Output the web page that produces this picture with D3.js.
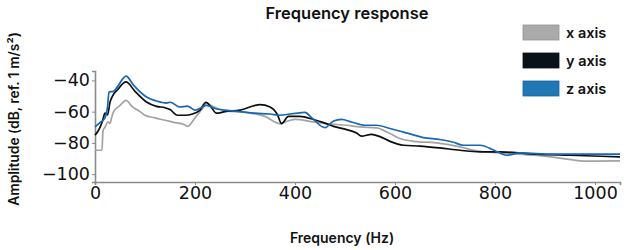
<!DOCTYPE html>
<html>
<head>
<meta charset="utf-8">
<script src="https://cdn.jsdelivr.net/npm/d3@7"></script>
<style>
  body { margin: 0; background: #fff; }
  svg { display: block; }
</style>
</head>
<body>
<svg id="chart" width="624" height="250"></svg>
<script>
// values
const freqX = [0, 14, 16, 20, 26, 30, 33, 37, 50, 62, 75, 90, 100, 120, 140, 160, 180, 185, 200, 215, 223, 235, 260, 300, 340, 370, 380, 400, 437, 463, 503, 530, 563, 590, 610, 637, 683, 730, 757, 810, 883, 937, 983, 1050];
const ampX = [-84.7, -84.7, -72, -70, -66.6, -67.5, -64, -60.2, -56, -52.8, -57, -60, -62.3, -64, -65.5, -67, -68.5, -69.4, -64, -58, -54.5, -56.5, -59.5, -60.5, -63, -67.7, -66.6, -65, -66.6, -67.7, -68.7, -69.8, -70.4, -74, -77.2, -79, -80, -82.5, -84.7, -86.4, -88, -90, -91.7, -91.5];

const freqY = [0, 5, 10, 15, 20, 25, 30, 35, 45, 62, 80, 103, 123, 140, 150, 165, 180, 195, 210, 222, 232, 243, 260, 290, 330, 350, 365, 373, 387, 410, 437, 457, 477, 503, 523, 533, 553, 570, 590, 617, 650, 690, 730, 770, 810, 883, 950, 1050];
const ampY = [-75, -73, -70, -66, -61, -62, -54, -50, -46, -41, -47, -53.8, -56.6, -57.5, -58.7, -62.3, -62.3, -61.5, -59, -54, -57, -61, -60, -59, -55.5, -57, -62, -67.7, -63, -63, -65, -67, -69.4, -71.5, -73.6, -75.7, -74.5, -76, -79, -81.5, -82, -83.2, -84.7, -85.7, -85.7, -87.2, -87.9, -88.9];

const freqZ = [0, 10, 20, 25, 28, 37, 45, 62, 77, 103, 123, 143, 150, 170, 185, 200, 212, 223, 240, 260, 290, 320, 350, 370, 390, 410, 420, 433, 460, 477, 493, 513, 540, 563, 590, 623, 657, 690, 717, 737, 770, 800, 823, 850, 917, 983, 1050];
const ampZ = [-69.8, -67, -64, -57, -47.5, -47, -44, -37.3, -43, -50.6, -53.2, -54.5, -54, -57, -56.5, -59, -57.5, -56, -58, -59, -60, -61, -61.5, -62.3, -61.5, -60.8, -60.5, -63.8, -70.2, -66, -65, -66.6, -68.7, -68.7, -70.8, -73.6, -76.6, -77.8, -79.6, -81.5, -81.5, -85, -87.9, -86.4, -87.2, -87.2, -87.2];

const xTicks = [0, 200, 400, 600, 800, 1000];
const yTicks = [-40, -60, -80, -100];

const seriesNames = ["x axis", "y axis", "z axis"];
const lineColors = ["#a3a3a3", "#0b0d10", "#1667b4"];
const patchColors = ["#aaaaaa", "#0a1219", "#1f77b4"];

const series = [
    { name: seriesNames[0], values: freqX.map((f, i) => [f, ampX[i]]) },
    { name: seriesNames[1], values: freqY.map((f, i) => [f, ampY[i]]) },
    { name: seriesNames[2], values: freqZ.map((f, i) => [f, ampZ[i]]) }
];

const svg = d3.select("#chart");

const x = d3.scaleLinear().domain([0, 1050]).range([95, 620]);
const y = d3.scaleLinear().domain([-105, -34]).range([182, 71]);

const axisColor = "#8a8a8a";

const xAxis = svg.append("g")
    .attr("transform", `translate(0,${y(-105)})`)
    .call(d3.axisBottom(x).tickValues(xTicks).tickSize(3).tickPadding(2)
        .tickFormat(d3.format("d")));

const yAxis = svg.append("g")
    .attr("transform", `translate(${x(0)},0)`)
    .call(d3.axisLeft(y).tickValues(yTicks).tickSize(3).tickPadding(2)
        .tickFormat(d => d3.format("d")(d).replace("-", "\u2212")));

[xAxis, yAxis].forEach(g => {
    g.select(".domain").attr("stroke", axisColor).attr("stroke-width", 1.6);
    g.selectAll(".tick line").attr("stroke", axisColor).attr("stroke-width", 1);
    g.selectAll(".tick text")
        .attr("fill", "#111")
        .style("font-family", "'DejaVu Sans', sans-serif")
        .style("font-size", "17.5px");
});

const line = d3.line()
    .x(d => x(d[0]))
    .y(d => y(d[1]))
    .curve(d3.curveMonotoneX);

svg.append("g")
    .selectAll("path")
    .data(series)
    .join("path")
    .attr("d", d => line(d.values))
    .attr("fill", "none")
    .attr("stroke", (d, i) => lineColors[i])
    .attr("stroke-width", 1.7)
    .attr("stroke-linejoin", "round");

// title and axis labels
const labelFont = "Inter, sans-serif";

svg.append("text")
    .attr("x", 347)
    .attr("y", 19)
    .attr("text-anchor", "middle")
    .style("font-family", labelFont)
    .style("font-weight", 600)
    .style("font-size", "16.5px")
    .attr("fill", "#111")
    .text("Frequency response");

svg.append("text")
    .attr("x", 342)
    .attr("y", 243)
    .attr("text-anchor", "middle")
    .style("font-family", labelFont)
    .style("font-weight", 600)
    .style("font-size", "14px")
    .attr("fill", "#111")
    .text("Frequency (Hz)");

svg.append("text")
    .attr("transform", "translate(19,119) rotate(-90)")
    .attr("text-anchor", "middle")
    .style("font-family", labelFont)
    .style("font-weight", 600)
    .style("font-size", "13.8px")
    .attr("fill", "#111")
    .text("Amplitude (dB,  ref. 1 m/s\u00b2)");

// legend
const legend = svg.append("g")
    .selectAll("g")
    .data(seriesNames)
    .join("g")
    .attr("transform", (d, i) => `translate(523,${25 + i * 28})`);

legend.append("rect")
    .attr("width", 36)
    .attr("height", 15)
    .attr("fill", (d, i) => patchColors[i])
    .attr("stroke", (d, i) => d3.color(patchColors[i]).darker(0.4))
    .attr("stroke-width", 0.8);

legend.append("text")
    .attr("x", 43)
    .attr("y", 12.5)
    .style("font-family", labelFont)
    .style("font-weight", 600)
    .style("font-size", "14.5px")
    .attr("fill", "#111")
    .text(d => d);
</script>
</body>
</html>
